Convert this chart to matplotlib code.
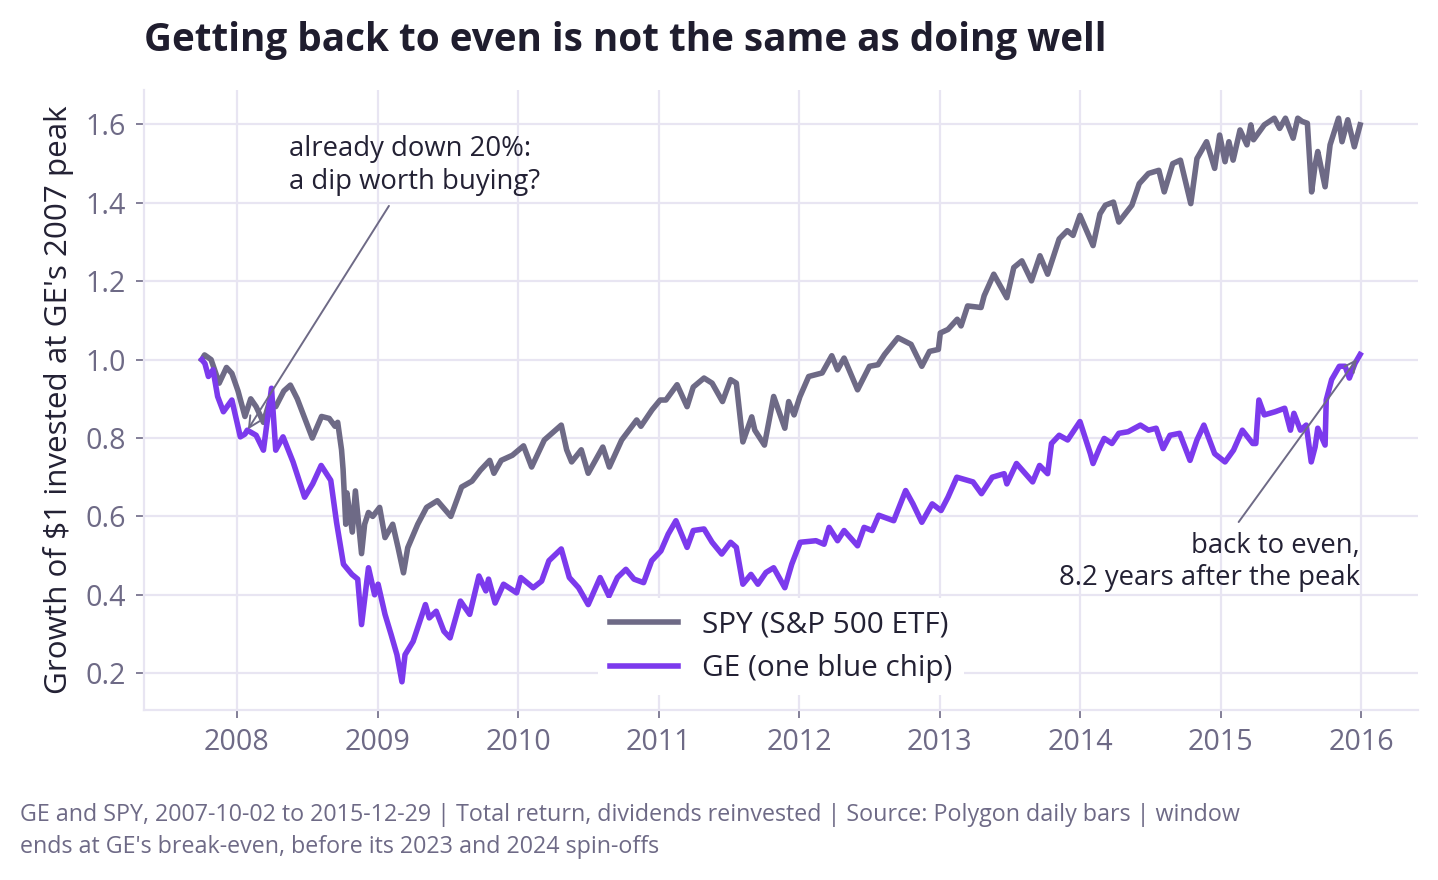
import matplotlib
matplotlib.use("Agg")
import matplotlib.pyplot as plt
import matplotlib.dates as mdates
import pandas as pd

plt.rcParams['font.family'] = ['Open Sans', 'Noto Sans', 'DejaVu Sans']

# growth of $1 (SPY)
spy_dates = [
    "2007-10-02", "2007-10-09", "2007-10-26", "2007-11-16", "2007-12-05", "2007-12-19",
    "2008-01-04", "2008-01-22", "2008-02-06", "2008-02-20", "2008-03-10", "2008-03-25",
    "2008-04-11", "2008-05-02", "2008-05-19", "2008-06-06", "2008-07-15", "2008-08-08",
    "2008-08-28", "2008-09-12", "2008-09-19", "2008-09-29", "2008-10-03", "2008-10-10",
    "2008-10-13", "2008-10-27", "2008-11-04", "2008-11-20", "2008-11-28", "2008-12-08",
    "2008-12-19", "2009-01-06", "2009-01-20", "2009-02-09", "2009-02-23", "2009-03-09",
    "2009-03-20", "2009-04-15", "2009-05-08", "2009-06-05", "2009-07-10", "2009-08-07",
    "2009-09-03", "2009-09-25", "2009-10-19", "2009-10-30", "2009-11-18", "2009-12-17",
    "2010-01-15", "2010-02-05", "2010-03-10", "2010-04-23", "2010-05-07", "2010-05-20",
    "2010-06-14", "2010-07-02", "2010-08-09", "2010-08-26", "2010-09-27", "2010-11-05",
    "2010-11-16", "2010-12-15", "2011-01-05", "2011-01-20", "2011-02-18", "2011-03-16",
    "2011-04-01", "2011-04-29", "2011-05-20", "2011-06-16", "2011-07-07", "2011-07-22",
    "2011-08-08", "2011-08-31", "2011-09-08", "2011-10-03", "2011-10-27", "2011-11-25",
    "2011-12-05", "2011-12-19", "2012-01-03", "2012-01-26", "2012-03-01", "2012-03-26",
    "2012-04-10", "2012-04-27", "2012-06-01", "2012-07-02", "2012-07-24", "2012-08-10",
    "2012-09-14", "2012-10-18", "2012-11-15", "2012-12-05", "2012-12-28", "2013-01-02",
    "2013-01-22", "2013-02-15", "2013-02-25", "2013-03-14", "2013-04-18", "2013-04-26",
    "2013-05-21", "2013-06-24", "2013-07-12", "2013-08-02", "2013-08-27", "2013-09-18",
    "2013-10-08", "2013-11-07", "2013-11-28", "2013-12-13", "2013-12-31", "2014-02-03",
    "2014-02-21", "2014-03-07", "2014-03-28", "2014-04-11", "2014-05-15", "2014-06-03",
    "2014-06-27", "2014-07-24", "2014-08-07", "2014-08-29", "2014-09-18", "2014-10-15",
    "2014-10-31", "2014-11-25", "2014-12-16", "2014-12-29", "2015-01-12", "2015-01-22",
    "2015-02-02", "2015-02-20", "2015-03-10", "2015-03-20", "2015-03-27", "2015-04-24",
    "2015-05-20", "2015-06-03", "2015-06-18", "2015-07-08", "2015-07-20", "2015-07-31",
    "2015-08-14", "2015-08-25", "2015-09-03", "2015-09-10", "2015-09-29", "2015-10-12",
    "2015-11-03", "2015-11-12", "2015-11-27", "2015-12-14", "2015-12-29",
]
spy_vals = [
    1.00, 1.012, 1.00, 0.94, 0.98, 0.965,
    0.92, 0.855, 0.90, 0.88, 0.84, 0.89,
    0.88, 0.92, 0.935, 0.90, 0.80, 0.855,
    0.85, 0.83, 0.84, 0.77, 0.72, 0.58,
    0.66, 0.56, 0.665, 0.505, 0.58, 0.61,
    0.60, 0.623, 0.546, 0.58, 0.52, 0.456,
    0.52, 0.58, 0.623, 0.64, 0.60, 0.675,
    0.69, 0.718, 0.743, 0.71, 0.743, 0.756,
    0.78, 0.726, 0.795, 0.833, 0.77, 0.739,
    0.77, 0.71, 0.777, 0.726, 0.795, 0.846,
    0.83, 0.872, 0.897, 0.897, 0.936, 0.88,
    0.93, 0.953, 0.94, 0.893, 0.949, 0.94,
    0.79, 0.854, 0.82, 0.782, 0.906, 0.825,
    0.893, 0.859, 0.905, 0.957, 0.966, 1.01,
    0.974, 1.004, 0.923, 0.983, 0.987, 1.013,
    1.056, 1.039, 0.983, 1.021, 1.026, 1.068,
    1.077, 1.103, 1.086, 1.137, 1.133, 1.163,
    1.218, 1.158, 1.235, 1.252, 1.201, 1.265,
    1.218, 1.308, 1.329, 1.317, 1.368, 1.291,
    1.372, 1.394, 1.402, 1.351, 1.394, 1.449,
    1.475, 1.483, 1.428, 1.50, 1.509, 1.398,
    1.513, 1.556, 1.488, 1.573, 1.505, 1.556,
    1.509, 1.586, 1.548, 1.599, 1.561, 1.599,
    1.616, 1.59, 1.616, 1.565, 1.616, 1.608,
    1.603, 1.428, 1.496, 1.531, 1.441, 1.548,
    1.616, 1.556, 1.612, 1.543, 1.599,
]

# growth of $1 (GE)
ge_dates = [
    "2007-10-02", "2007-10-10", "2007-10-19", "2007-10-31", "2007-11-12", "2007-11-27",
    "2007-12-19", "2008-01-10", "2008-01-22", "2008-01-28", "2008-02-20", "2008-03-10",
    "2008-03-31", "2008-04-11", "2008-04-30", "2008-05-26", "2008-06-25", "2008-07-16",
    "2008-08-07", "2008-09-01", "2008-09-16", "2008-10-04", "2008-10-26", "2008-11-10",
    "2008-11-20", "2008-12-08", "2008-12-24", "2009-01-02", "2009-01-20", "2009-02-05",
    "2009-02-20", "2009-03-05", "2009-03-13", "2009-04-03", "2009-05-05", "2009-05-15",
    "2009-06-02", "2009-06-22", "2009-07-08", "2009-08-04", "2009-08-28", "2009-09-21",
    "2009-10-09", "2009-10-16", "2009-11-02", "2009-11-24", "2009-12-28", "2010-01-08",
    "2010-02-09", "2010-03-03", "2010-03-22", "2010-04-23", "2010-05-14", "2010-06-07",
    "2010-07-02", "2010-08-02", "2010-08-25", "2010-09-16", "2010-10-08", "2010-10-29",
    "2010-11-23", "2010-12-14", "2011-01-07", "2011-01-26", "2011-02-15", "2011-03-16",
    "2011-04-01", "2011-04-29", "2011-05-20", "2011-06-14", "2011-07-07", "2011-07-22",
    "2011-08-08", "2011-08-29", "2011-09-16", "2011-10-07", "2011-10-27", "2011-11-25",
    "2011-12-13", "2012-01-04", "2012-02-14", "2012-03-06", "2012-03-19", "2012-04-10",
    "2012-04-27", "2012-06-01", "2012-06-18", "2012-07-09", "2012-07-26", "2012-09-03",
    "2012-10-04", "2012-10-23", "2012-11-15", "2012-12-12", "2013-01-04", "2013-01-22",
    "2013-02-14", "2013-03-28", "2013-04-19", "2013-05-17", "2013-06-17", "2013-06-24",
    "2013-07-19", "2013-08-30", "2013-09-17", "2013-10-08", "2013-10-18", "2013-11-07",
    "2013-11-29", "2013-12-31", "2014-01-27", "2014-02-03", "2014-02-21", "2014-03-04",
    "2014-03-24", "2014-04-11", "2014-05-05", "2014-06-06", "2014-06-27", "2014-07-17",
    "2014-08-04", "2014-08-22", "2014-09-16", "2014-10-13", "2014-10-31", "2014-11-18",
    "2014-12-16", "2015-01-12", "2015-02-03", "2015-02-26", "2015-03-25", "2015-04-02",
    "2015-04-10", "2015-04-24", "2015-05-22", "2015-06-16", "2015-07-01", "2015-07-10",
    "2015-07-27", "2015-08-11", "2015-08-24", "2015-09-03", "2015-09-10", "2015-09-29",
    "2015-10-02", "2015-10-16", "2015-11-05", "2015-11-20", "2015-12-01", "2015-12-16",
    "2015-12-29",
]
ge_vals = [
    1.00, 0.99, 0.957, 0.974, 0.906, 0.867,
    0.897, 0.803, 0.81, 0.82, 0.807, 0.769,
    0.927, 0.769, 0.803, 0.739, 0.649, 0.683,
    0.73, 0.692, 0.585, 0.478, 0.452, 0.44,
    0.324, 0.469, 0.40, 0.427, 0.35, 0.298,
    0.247, 0.178, 0.247, 0.281, 0.375, 0.341,
    0.358, 0.307, 0.29, 0.384, 0.35, 0.448,
    0.41, 0.44, 0.379, 0.427, 0.405, 0.444,
    0.418, 0.435, 0.487, 0.517, 0.444, 0.418,
    0.375, 0.444, 0.397, 0.444, 0.465, 0.44,
    0.431, 0.487, 0.512, 0.555, 0.589, 0.521,
    0.564, 0.568, 0.534, 0.504, 0.534, 0.521,
    0.427, 0.452, 0.427, 0.457, 0.469, 0.418,
    0.478, 0.534, 0.538, 0.529, 0.572, 0.538,
    0.564, 0.525, 0.572, 0.564, 0.603, 0.589,
    0.666, 0.632, 0.585, 0.632, 0.615, 0.649,
    0.70, 0.688, 0.658, 0.70, 0.709, 0.683,
    0.735, 0.688, 0.73, 0.709, 0.786, 0.807,
    0.795, 0.842, 0.76, 0.735, 0.777, 0.799,
    0.786, 0.812, 0.816, 0.833, 0.82, 0.825,
    0.773, 0.807, 0.812, 0.743, 0.795, 0.833,
    0.76, 0.739, 0.769, 0.82, 0.786, 0.786,
    0.897, 0.859, 0.867, 0.876, 0.82, 0.863,
    0.82, 0.833, 0.739, 0.777, 0.825, 0.782,
    0.897, 0.949, 0.983, 0.983, 0.953, 0.991,
    1.013,
]

spy_x = pd.to_datetime(spy_dates)
ge_x = pd.to_datetime(ge_dates)

spy_color = "#6e6a86"
ge_color = "#7c3aed"
grid_color = "#e8e5f2"
text_dark = "#232134"

fig = plt.figure(figsize=(7.19, 4.4), dpi=200)
ax = fig.add_axes([0.1001, 0.1932, 0.886, 0.7045])

ax.plot(spy_x, spy_vals, color=spy_color, linewidth=2.0, label="SPY (S&P 500 ETF)")
ax.plot(ge_x, ge_vals, color=ge_color, linewidth=2.0, label="GE (one blue chip)")

ax.xaxis.set_major_locator(mdates.YearLocator())
ax.xaxis.set_major_formatter(mdates.DateFormatter("%Y"))
ax.yaxis.set_major_formatter(matplotlib.ticker.FormatStrFormatter("%.1f"))

ax.grid(True, color=grid_color, linewidth=0.8)
ax.set_axisbelow(True)
for side in ["top", "right"]:
    ax.spines[side].set_visible(False)
for side in ["left", "bottom"]:
    ax.spines[side].set_color(grid_color)
    ax.spines[side].set_linewidth(0.8)
ax.tick_params(colors=spy_color, labelsize=10.3, length=3, width=0.6)

ax.set_ylabel("Growth of $1 invested at GE's 2007 peak", fontsize=11.3, color=text_dark)

# annotations
i0 = ge_dates.index("2008-01-22")
ax.annotate("already down 20%:\na dip worth buying?",
            xy=(ge_x[i0], ge_vals[i0]), xytext=(pd.Timestamp("2008-05-15"), 1.572),
            ha="left", va="top", fontsize=9.9, color=text_dark,
            arrowprops=dict(arrowstyle="->", color=spy_color, lw=0.7))
ax.annotate("back to even,\n8.2 years after the peak",
            xy=(ge_x[-1], ge_vals[-1]), xytext=(pd.Timestamp("2015-12-29"), 0.56),
            ha="right", va="top", multialignment="right", fontsize=9.9, color=text_dark,
            arrowprops=dict(arrowstyle="->", color=spy_color, lw=0.7))

leg = ax.legend(loc="lower center", fontsize=10.7, frameon=True, handlelength=2.3)
leg.get_frame().set_facecolor("white")
leg.get_frame().set_edgecolor("none")
leg.get_frame().set_alpha(1)
for t in leg.get_texts():
    t.set_color(text_dark)

fig.text(0.1001, 0.942, "Getting back to even is not the same as doing well",
         fontsize=13.9, fontweight="bold", color="#1f1d2e", ha="left", va="baseline")
fig.text(0.0139, 0.087,
         "GE and SPY, 2007-10-02 to 2015-12-29 | Total return, dividends reinvested | Source: Polygon daily bars | window\n"
         "ends at GE's break-even, before its 2023 and 2024 spin-offs",
         fontsize=8.4, color=spy_color, ha="left", va="top", linespacing=1.4)

fig.savefig("out.png", dpi=200)
